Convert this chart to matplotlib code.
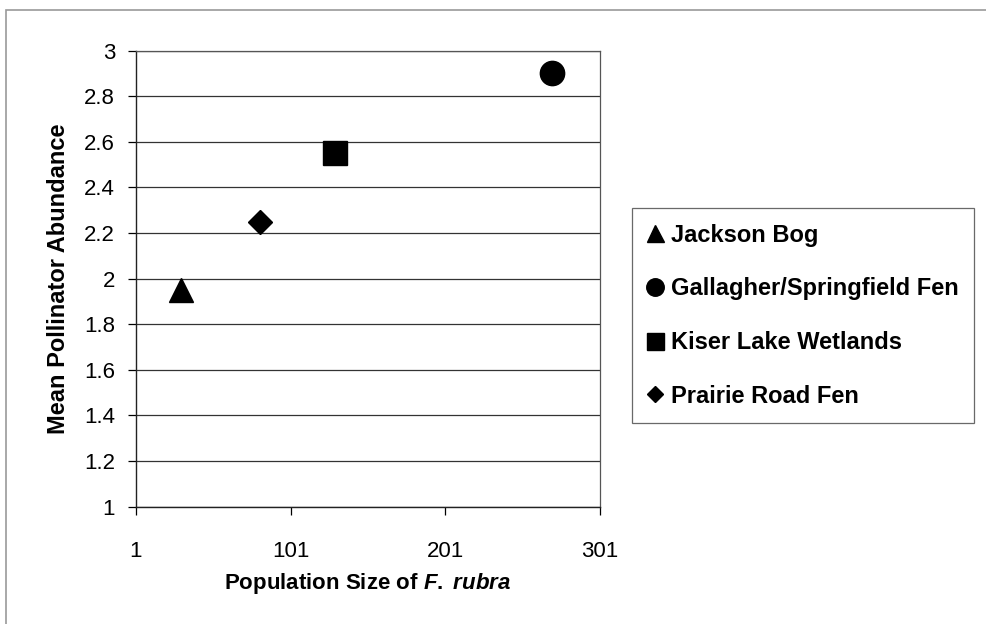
import matplotlib.pyplot as plt
from matplotlib.patches import Rectangle

plt.rcParams['font.family'] = ['Liberation Sans', 'DejaVu Sans']
plt.rcParams['mathtext.fontset'] = 'custom'
plt.rcParams['mathtext.it'] = 'Liberation Sans:italic:bold'
plt.rcParams['mathtext.rm'] = 'Liberation Sans:bold'

# site data: population size vs mean pollinator abundance
sites = ['Jackson Bog', 'Gallagher/Springfield Fen', 'Kiser Lake Wetlands', 'Prairie Road Fen']
pop_size = [30, 270, 130, 81]
abundance = [1.95, 2.90, 2.55, 2.25]
markers = ['^', 'o', 's', 'D']
msizes = [17, 17.5, 17, 12]

xticks = [1, 101, 201, 301]
yticks = [1, 1.2, 1.4, 1.6, 1.8, 2, 2.2, 2.4, 2.6, 2.8, 3]
ytick_labels = ['1', '1.2', '1.4', '1.6', '1.8', '2', '2.2', '2.4', '2.6', '2.8', '3']

fig = plt.figure(figsize=(9.86, 6.24), dpi=100)
ax = fig.add_axes([0.1379, 0.188, 0.4706, 0.7308])

handles = []
for name, x, y, m, ms in zip(sites, pop_size, abundance, markers, msizes):
    ax.plot([x], [y], linestyle='none', marker=m, markersize=ms, color='black', zorder=3)
    h, = ax.plot([], [], linestyle='none', marker=m, markersize=ms * 0.72, color='black', label=name)
    handles.append(h)

ax.set_xlim(1, 301)
ax.set_ylim(1, 3)
ax.set_xticks(xticks)
ax.set_xticklabels([str(t) for t in xticks])
ax.set_yticks(yticks)
ax.set_yticklabels(ytick_labels)
ax.tick_params(axis='both', direction='out', length=6, width=0.9, labelsize=16, colors='black')
ax.tick_params(axis='x', pad=19)
ax.tick_params(axis='y', pad=9)
ax.grid(axis='y', color='#333333', linewidth=0.9)
ax.set_axisbelow(True)
for side in ['left', 'bottom']:
    ax.spines[side].set_color('#222222')
    ax.spines[side].set_linewidth(1.0)
for side in ['right', 'top']:
    ax.spines[side].set_color('#555555')
    ax.spines[side].set_linewidth(0.9)

ax.set_xlabel(r'Population Size of $\it{F.}$ $\it{rubra}$', fontsize=16, fontweight='bold', labelpad=6)
ax.set_ylabel('Mean Pollinator Abundance', fontsize=17, fontweight='bold', labelpad=10)

leg = fig.legend(handles=handles, loc='upper left', bbox_to_anchor=(0.6407, 0.6662),
                 frameon=True, fancybox=False, edgecolor='#444444',
                 prop={'weight': 'bold', 'size': 17}, handlelength=0.7, handletextpad=0.3,
                 labelspacing=1.3, borderpad=0.65, borderaxespad=0)
leg.get_frame().set_linewidth(0.9)

# outer chart frame
fig.patches.append(Rectangle((0.006, -0.05), 1.05, 1.034, transform=fig.transFigure,
                             fill=False, edgecolor='#999999', linewidth=1.2))

fig.savefig('out.png', dpi=100)
